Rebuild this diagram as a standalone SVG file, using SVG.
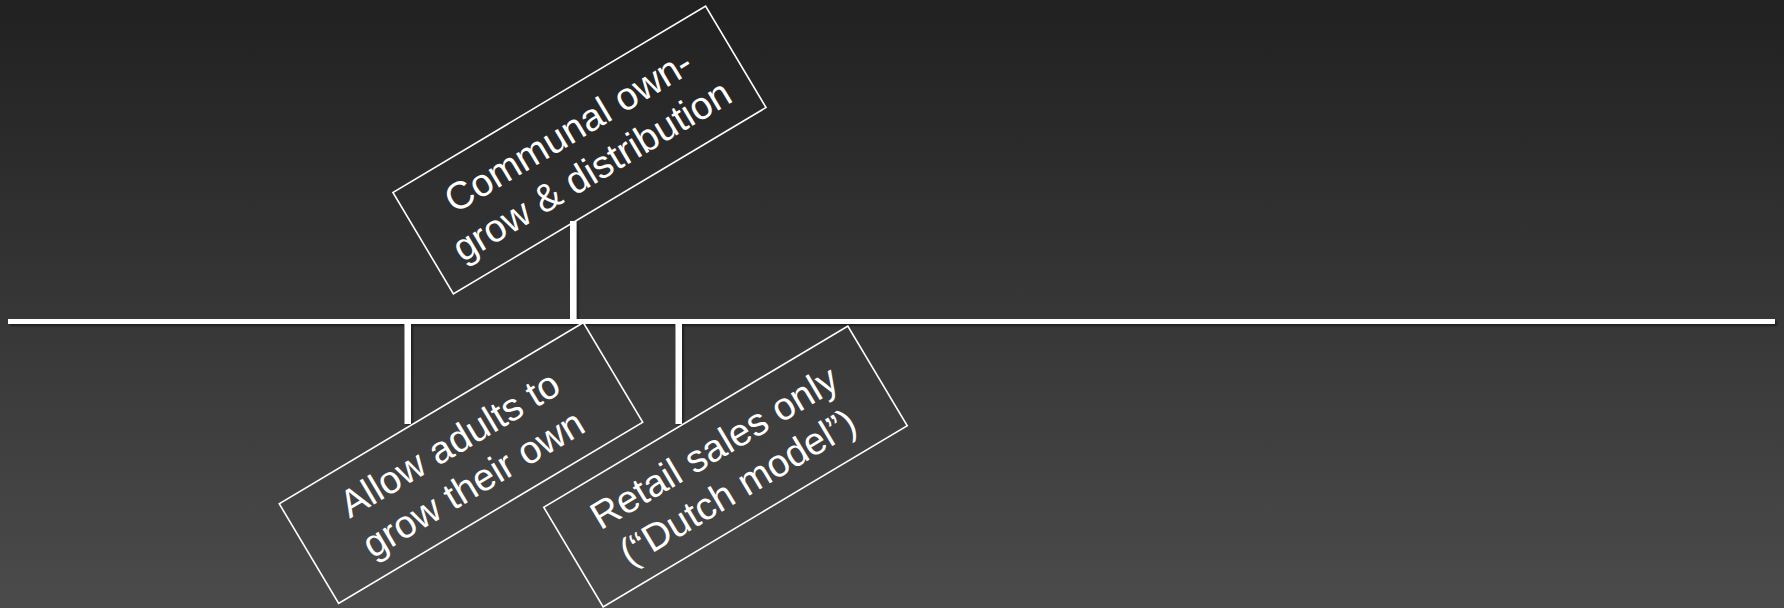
<svg xmlns="http://www.w3.org/2000/svg" width="1784" height="608" viewBox="0 0 1784 608">
  <defs>
    <linearGradient id="bg" x1="0" y1="0" x2="0" y2="1">
      <stop offset="0" stop-color="#212121"/>
      <stop offset="1" stop-color="#4b4b4b"/>
    </linearGradient>
    <filter id="shadow" x="-5%" y="-50%" width="110%" height="200%">
      <feDropShadow dx="2" dy="2" stdDeviation="1.2" flood-color="#000" flood-opacity="0.45"/>
    </filter>
  </defs>
  <style>
    .box { fill: none; stroke: #ffffff; stroke-width: 1.6; }
    .lbl { fill: #ffffff; font-family: "Liberation Sans", Arial, sans-serif; font-size: 38.5px; text-anchor: middle; }
    .bar { fill: #ffffff; }
  </style>
  <rect x="0" y="0" width="1784" height="608" fill="url(#bg)"/>

  <g id="connectors" filter="url(#shadow)">
    <rect class="bar" x="8" y="319" width="1767" height="5"/>
    <rect class="bar" x="570" y="221" width="6.5" height="99"/>
    <rect class="bar" x="404.5" y="323" width="6.5" height="101"/>
    <rect class="bar" x="675.5" y="323" width="6.5" height="101"/>
  </g>

  <g id="node-communal" transform="translate(579.5,150) rotate(-30.8)">
    <rect class="box" x="-182" y="-59" width="364" height="118"/>
    <text class="lbl" x="0" y="-9">Communal own-</text>
    <text class="lbl" x="0" y="37">grow &amp; distribution</text>
  </g>

  <g id="node-allow" transform="translate(461,463) rotate(-30.8)">
    <rect class="box" x="-177" y="-58" width="354" height="116"/>
    <text class="lbl" x="0" y="-9">Allow adults to</text>
    <text class="lbl" x="0" y="37">grow their own</text>
  </g>

  <g id="node-retail" transform="translate(725.5,466.5) rotate(-30.8)">
    <rect class="box" x="-177" y="-58" width="354" height="116"/>
    <text class="lbl" x="0" y="-9">Retail sales only</text>
    <text class="lbl" x="0" y="37">(“Dutch model”)</text>
  </g>
</svg>
